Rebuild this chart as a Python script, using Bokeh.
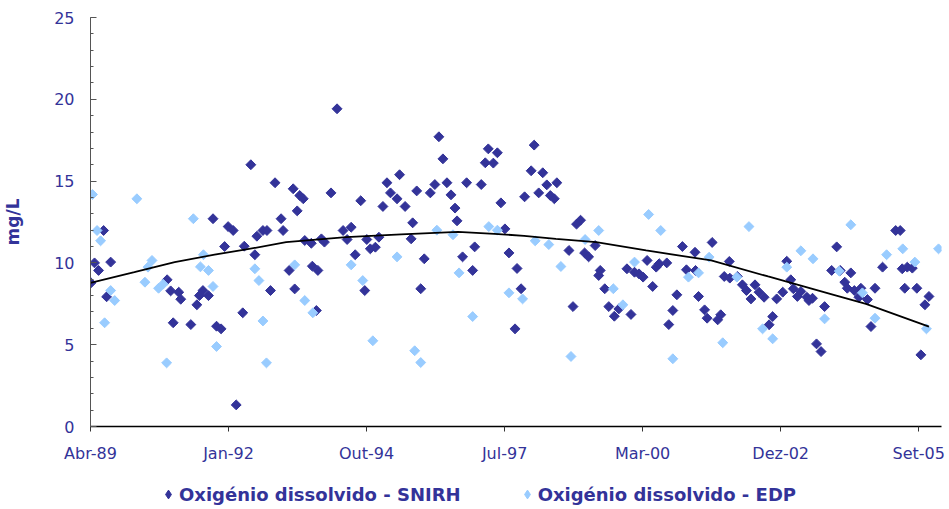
import numpy as np
from bokeh.plotting import figure
from bokeh.layouts import column
from bokeh.models import FixedTicker, Legend, LegendItem, Range1d
from bokeh.embed import file_html
from bokeh.resources import INLINE

# first axis tick (mid-April 1989) as decimal year; axis ticks every 1000 days
START_YEAR = 1989.29

snirh_year = [
    1989.30, 1989.37, 1989.45, 1989.55, 1989.61, 1989.69, 1990.81, 1990.88, 1990.93, 1991.04,
    1991.08, 1991.28, 1991.40, 1991.45, 1991.52, 1991.63, 1991.72, 1991.79, 1991.88, 1991.95,
    1992.02, 1992.12, 1992.18, 1992.31, 1992.34, 1992.47, 1992.55, 1992.59, 1992.71, 1992.79,
    1992.86, 1992.95, 1993.07, 1993.11, 1993.23, 1993.31, 1993.34, 1993.39, 1993.44, 1993.51,
    1993.54, 1993.67, 1993.69, 1993.77, 1993.80, 1993.87, 1993.93, 1994.06, 1994.18, 1994.30,
    1994.38, 1994.46, 1994.54, 1994.65, 1994.73, 1994.77, 1994.84, 1994.94, 1995.01, 1995.09,
    1995.17, 1995.24, 1995.37, 1995.42, 1995.53, 1995.65, 1995.68, 1995.76, 1995.84, 1995.91,
    1996.03, 1996.12, 1996.20, 1996.28, 1996.36, 1996.44, 1996.52, 1996.56, 1996.67, 1996.75,
    1996.87, 1996.91, 1997.04, 1997.12, 1997.18, 1997.28, 1997.36, 1997.43, 1997.51, 1997.59,
    1997.71, 1997.75, 1997.83, 1997.90, 1998.03, 1998.09, 1998.18, 1998.26, 1998.34, 1998.41,
    1998.49, 1998.54, 1998.78, 1998.86, 1998.93, 1999.01, 1999.09, 1999.17, 1999.30, 1999.37,
    1999.40, 1999.49, 1999.57, 1999.68, 1999.77, 1999.93, 2000.01, 2000.08, 2000.17, 2000.25,
    2000.33, 2000.44, 2000.51, 2000.57, 2000.72, 2000.76, 2000.84, 2000.92, 2001.03, 2001.11,
    2001.28, 2001.29, 2001.35, 2001.47, 2001.52, 2001.62, 2001.73, 2001.79, 2001.86, 2001.96,
    2001.97, 2002.12, 2002.22, 2002.30, 2002.39, 2002.47, 2002.55, 2002.65, 2002.75, 2002.82,
    2002.90, 2003.02, 2003.10, 2003.18, 2003.23, 2003.31, 2003.38, 2003.50, 2003.54, 2003.61,
    2003.69, 2003.78, 2003.85, 2003.99, 2004.09, 2004.16, 2004.25, 2004.30, 2004.37, 2004.44,
    2004.53, 2004.57, 2004.70, 2004.77, 2004.85, 2005.00, 2005.26, 2005.35, 2005.39, 2005.44,
    2005.49, 2005.59, 2005.68, 2005.76, 2005.84, 2005.92,
]
snirh_o2 = [
    8.78, 10.0, 9.54, 11.98, 7.93, 10.05, 8.97, 8.29, 6.34, 8.21,
    7.78, 6.23, 7.44, 8.0, 8.31, 8.0, 12.7, 6.13, 5.97, 11.0,
    12.22, 11.98, 1.32, 6.95, 11.02, 16.0, 10.5, 11.63, 11.98, 11.98,
    8.31, 14.9, 12.7, 11.98, 9.54, 14.53, 8.41, 13.18, 14.12, 13.92,
    11.37, 11.2, 9.8, 7.09, 9.54, 11.47, 11.27, 14.28, 19.42, 11.98,
    11.43, 12.18, 10.5, 13.8, 8.31, 11.43, 10.86, 10.96, 11.57, 13.45,
    14.9, 14.28, 13.92, 15.39, 13.45, 11.47, 12.45, 14.4, 8.42, 10.25,
    14.28, 14.79, 17.71, 16.36, 14.9, 14.16, 13.35, 12.57, 10.37, 14.9,
    9.54, 10.98, 14.79, 16.12, 16.97, 16.1, 16.73, 13.67, 12.08, 10.61,
    5.97, 9.66, 8.42, 14.04, 15.63, 17.2, 14.28, 15.51, 14.77, 14.12,
    13.92, 14.9, 10.76, 7.33, 12.37, 12.61, 10.61, 10.37, 11.06, 9.23,
    9.54, 8.42, 7.33, 6.74, 7.19, 9.64, 6.85, 9.43, 9.33, 9.13,
    10.15, 8.56, 9.74, 9.95, 10.0, 6.23, 7.09, 8.05, 11.0, 9.58,
    10.65, 9.54, 7.95, 7.13, 6.62, 11.25, 6.52, 6.83, 9.17, 10.09,
    9.07, 9.17, 8.66, 8.31, 7.8, 8.66, 8.21, 7.9, 6.22, 6.72,
    7.8, 8.21, 10.1, 8.97, 8.42, 7.95, 8.25, 7.9, 7.7, 7.84,
    5.05, 4.58, 7.33, 9.54, 10.98, 9.54, 8.82, 8.45, 9.39, 8.31,
    7.9, 8.45, 7.76, 6.11, 8.45, 9.74, 11.98, 11.98, 9.64, 8.45,
    9.74, 9.68, 8.45, 4.38, 7.44, 7.95,
]

edp_year = [
    1989.33, 1989.42, 1989.49, 1989.57, 1989.69, 1989.77, 1990.21, 1990.37, 1990.43, 1990.51,
    1990.64, 1990.73, 1990.80, 1991.33, 1991.47, 1991.53, 1991.63, 1991.72, 1991.79, 1992.55,
    1992.63, 1992.71, 1992.78, 1993.34, 1993.54, 1993.70, 1994.46, 1994.69, 1994.89, 1995.37,
    1995.72, 1995.84, 1996.16, 1996.48, 1996.60, 1996.87, 1997.19, 1997.36, 1997.59, 1997.86,
    1998.11, 1998.38, 1998.62, 1998.82, 1999.10, 1999.37, 1999.66, 1999.85, 2000.08, 2000.36,
    2000.60, 2000.84, 2001.15, 2001.35, 2001.56, 2001.83, 2002.11, 2002.35, 2002.62, 2002.82,
    2003.10, 2003.38, 2003.62, 2003.85, 2004.14, 2004.37, 2004.60, 2004.85, 2005.08, 2005.40,
    2005.64, 2005.87, 2006.11,
]
edp_o2 = [
    14.18, 11.98, 11.35, 6.34, 8.31, 7.7, 13.92, 8.82, 9.74, 10.15,
    8.45, 8.7, 3.89, 12.7, 9.76, 10.5, 9.54, 8.56, 4.89, 9.64,
    8.92, 6.45, 3.89, 9.88, 7.7, 6.95, 9.88, 8.92, 5.24, 10.37,
    4.63, 3.91, 12.0, 11.72, 9.39, 6.72, 12.22, 12.0, 8.17, 7.8,
    11.35, 11.12, 9.78, 4.28, 11.43, 11.98, 8.42, 7.44, 10.05, 12.96,
    11.98, 4.14, 9.13, 9.39, 10.35, 5.12, 9.13, 12.22, 5.97, 5.36,
    9.74, 10.74, 10.25, 6.58, 9.5, 12.33, 8.17, 6.62, 10.5, 10.86,
    10.05, 5.97, 10.86,
]

trend_year = [
    1989.29, 1990.16, 1990.96, 1991.75, 1992.38, 1993.17, 1994.36, 1995.45, 1996.58, 1997.30,
    1997.89, 1998.52, 1999.32, 2000.31, 2001.60, 2002.73, 2004.03, 2004.67, 2005.92,
]
trend_o2 = [
    8.78, 9.43, 10.05, 10.5, 10.82, 11.27, 11.57, 11.74, 11.9, 11.78,
    11.65, 11.47, 11.27, 10.76, 10.15, 9.17, 8.05, 7.5, 6.11,
]

tick_days = [0, 1000, 2000, 3000, 4000, 5000, 6000]
tick_labels = ["Abr-89", "Jan-92", "Out-94", "Jul-97", "Mar-00", "Dez-02", "Set-05"]
y_ticks = [0, 5, 10, 15, 20, 25]

series_names = ["Oxigénio dissolvido - SNIRH", "Oxigénio dissolvido - EDP"]
DARK = "#333399"
LIGHT = "#99CCFF"
TEXT = "#333399"


def to_days(years):
    return (np.asarray(years) - START_YEAR) * 365.25


p = figure(
    width=949, height=466,
    x_range=Range1d(0, 6165), y_range=Range1d(0, 25),
    output_backend="svg", toolbar_location=None,
    min_border_left=89, min_border_right=8, min_border_top=17, min_border_bottom=40,
)
p.grid.visible = False
p.outline_line_color = None
p.background_fill_color = "white"
p.border_fill_color = "white"

# x axis
xa = p.xaxis[0]
xa.ticker = FixedTicker(ticks=tick_days)
xa.major_label_overrides = {t: l for t, l in zip(tick_days, tick_labels)}
xa.minor_tick_line_color = None
xa.major_tick_in = 0
xa.major_tick_out = 5
xa.axis_line_color = "black"
xa.axis_line_width = 1.5
xa.major_tick_line_color = "#333333"
xa.major_label_standoff = 12
xa.major_label_text_font = "DejaVu Sans"
xa.major_label_text_font_size = "16px"
xa.major_label_text_color = TEXT

# y axis
ya = p.yaxis[0]
ya.ticker = FixedTicker(ticks=y_ticks, minor_ticks=list(range(0, 26)))
ya.major_tick_in = 6
ya.major_tick_out = 0
ya.minor_tick_in = 3
ya.minor_tick_out = 0
ya.axis_line_color = "#555555"
ya.major_tick_line_color = "#555555"
ya.minor_tick_line_color = "#555555"
ya.major_label_standoff = 16
ya.major_label_text_font = "DejaVu Sans"
ya.major_label_text_font_size = "16px"
ya.major_label_text_color = TEXT
ya.axis_label = "mg/L"
ya.axis_label_text_font = "DejaVu Sans"
ya.axis_label_text_font_style = "bold"
ya.axis_label_text_font_size = "17px"
ya.axis_label_text_color = TEXT
ya.axis_label_standoff = 28

p.scatter(to_days(snirh_year), snirh_o2, marker="square", angle=np.pi / 4, size=7,
          fill_color=DARK, line_color=DARK)
p.scatter(to_days(edp_year), edp_o2, marker="square", angle=np.pi / 4, size=7,
          fill_color=LIGHT, line_color=LIGHT)
p.line(to_days(trend_year), trend_o2, line_color="black", line_width=1.8)

# legend strip below the chart (its frame is aligned with the chart's frame)
lg = figure(
    width=949, height=43, x_range=Range1d(0, 1), y_range=Range1d(0, 1),
    output_backend="svg", toolbar_location=None,
    x_axis_location=None, y_axis_location=None, min_border=0,
)
lg.grid.visible = False
lg.outline_line_color = None
lg.border_fill_color = "white"
nan1 = np.array([np.nan])
leg_dark = lg.scatter(x=nan1, y=nan1, marker="diamond", fill_color=DARK, line_color=DARK)
leg_light = lg.scatter(x=nan1, y=nan1, marker="diamond", fill_color=LIGHT, line_color=LIGHT)

legend = Legend(
    items=[LegendItem(label=series_names[0], renderers=[leg_dark], index=0),
           LegendItem(label=series_names[1], renderers=[leg_light], index=0)],
    location=(67, 2), orientation="horizontal",
    glyph_width=22, glyph_height=26, label_standoff=0, spacing=55,
    padding=0, margin=0, border_line_color=None, background_fill_alpha=0,
    label_text_font="DejaVu Sans", label_text_font_style="bold",
    label_text_font_size="18px", label_text_color=TEXT,
)
lg.add_layout(legend)

open("out.html", "w").write(file_html(column(p, lg, spacing=0), INLINE))
